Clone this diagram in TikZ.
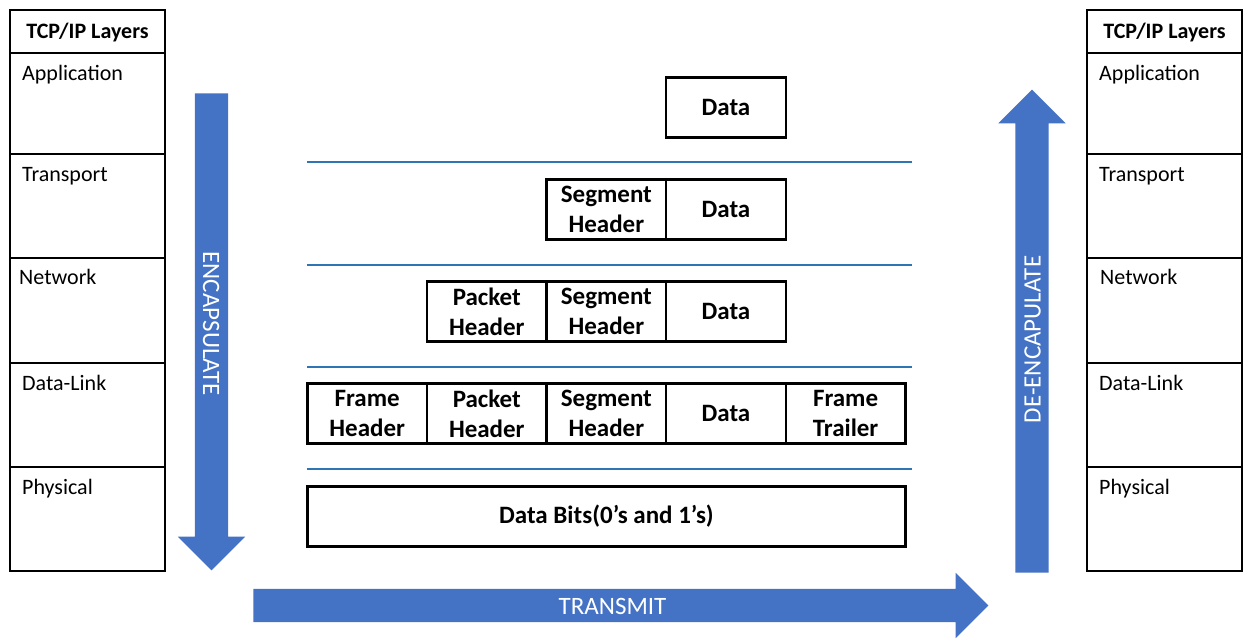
\documentclass[tikz,border=0pt]{standalone}
\usepackage{fontspec}
\setmainfont{Carlito}
\usetikzlibrary{positioning,shapes.arrows,scopes}
\definecolor{arrowblue}{RGB}{68,114,196}
\definecolor{sepblue}{RGB}{46,117,182}
\tikzset{
  lyr/.style={draw, line width=2.5pt, outer sep=0pt, inner sep=0pt, minimum width=155pt, minimum height=#1},
  lyr/.default=104pt,
  lt/.style={anchor=base west, inner sep=0pt, font=\fontsize{22}{26}\selectfont},
  pk/.style={draw, line width=2.5pt, outer sep=0pt, inner sep=0pt, minimum width=119.6pt, minimum height=#1, align=center, font=\bfseries\fontsize{25}{30}\selectfont},
  pk/.default=60pt,
  ar/.style={single arrow, fill=arrowblue, text=white, font=\fontsize{25}{30}\selectfont, single arrow head extend=#1, text height=17pt, text depth=0pt, inner xsep=0pt, inner ysep=8pt},
  sepline/.style={draw=sepblue, line width=2pt}
}

\begin{document}
\begin{tikzpicture}[x=1pt, y=-1pt]
  \useasboundingbox (0,0) rectangle (1253,640);
  % layer tables, sender and receiver
  \foreach \sd/\cx/\nx in {l/87.5/9, r/1164.5/13} {
    \node[lyr=43pt, font=\bfseries\fontsize{22}{26}\selectfont, text height=14pt, text depth=0pt] (hd\sd) at (\cx,31.5) {TCP/IP Layers};
    \node[lyr=101pt, below=0pt of hd\sd] (ap\sd) {};
    \node[lyr, below=0pt of ap\sd] (tr\sd) {};
    \node[lyr=105pt, below=0pt of tr\sd] (nw\sd) {};
    \node[lyr, below=0pt of nw\sd] (dl\sd) {};
    \node[lyr, below=0pt of dl\sd] (ph\sd) {};
    \node[lt] (ap\sd-t) at ([shift={(12,27)}]ap\sd.north west) {Application};
    \node[lt] (tr\sd-t) at ([shift={(12,27)}]tr\sd.north west) {Transport};
    \node[lt] (nw\sd-t) at ([shift={(\nx,26)}]nw\sd.north west) {Network};
    \node[lt] (dl\sd-t) at ([shift={(12,27)}]dl\sd.north west) {Data-Link};
    \node[lt] (ph\sd-t) at ([shift={(12,27)}]ph\sd.north west) {Physical};
  }

  % data units
  \node[pk] (d1) at (726,107.5) {Data};
  \node[pk, below=42pt of d1] (d2) {Data};
  \node[pk, left=0pt of d2] (s2) {Segment\\Header};
  \node[pk, below=42pt of d2] (d3) {Data};
  \node[pk, left=0pt of d3] (s3) {Segment\\Header};
  \node[pk, left=0pt of s3] (p3) {Packet\\Header};
  \node[pk, below=42pt of d3] (d4) {Data};
  \node[pk, left=0pt of d4] (s4) {Segment\\Header};
  \node[pk, left=0pt of s4] (p4) {Packet\\Header};
  \node[pk, left=0pt of p4] (f4) {Frame\\Header};
  \node[pk, right=0pt of d4] (t4) {Frame\\Trailer};
  \node[pk, minimum width=598pt, below=43pt of s4] (bits) {Data Bits(0’s and 1’s)};

  \foreach \y in {162,265,367,469}
    \draw[sepline] (307,\y) -- (912,\y);

  % block arrows
  {[every node/.append style={draw=none}]
  \node[ar=17pt, rotate=-90, minimum height=477pt] (enc) at (211.5,323.5) {ENCAPSULATE};
  \node[ar=17pt, rotate=90, minimum height=483pt] (dec) at (1032,339.5) {DE-ENCAPULATE};
  \node[ar=16pt, minimum height=735pt] (tx) at (612.5,605.5) {TRANSMIT};
  }
\end{tikzpicture}
\end{document}
